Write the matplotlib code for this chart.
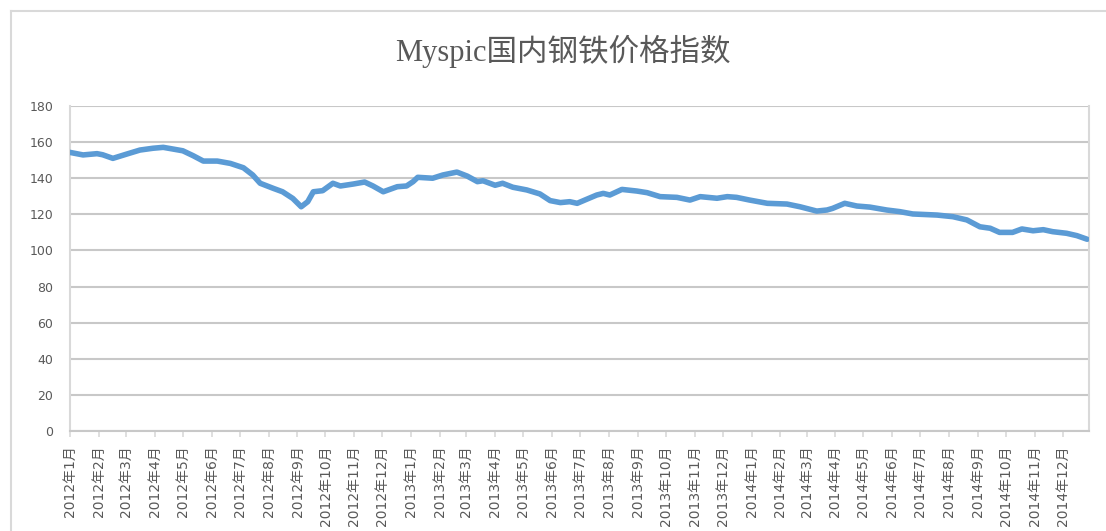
import matplotlib
matplotlib.use("Agg")
import matplotlib.pyplot as plt
from matplotlib.lines import Line2D
import pandas as pd

title = "Myspic国内钢铁价格指数"

dates = [
    "2012-01-01", "2012-01-15", "2012-01-30", "2012-02-05", "2012-02-16", "2012-03-02",
    "2012-03-16", "2012-03-30", "2012-04-10", "2012-04-20", "2012-05-01", "2012-05-12",
    "2012-05-23", "2012-06-07", "2012-06-21", "2012-07-05", "2012-07-15", "2012-07-23",
    "2012-08-06", "2012-08-16", "2012-08-27", "2012-09-05", "2012-09-12", "2012-09-18",
    "2012-09-28", "2012-10-09", "2012-10-17", "2012-10-31", "2012-11-12", "2012-11-21",
    "2012-12-02", "2012-12-17", "2012-12-27", "2013-01-03", "2013-01-08", "2013-01-24",
    "2013-02-04", "2013-02-19", "2013-03-02", "2013-03-13", "2013-03-19", "2013-04-01",
    "2013-04-09", "2013-04-20", "2013-05-05", "2013-05-19", "2013-05-30", "2013-06-10",
    "2013-06-20", "2013-06-28", "2013-07-08", "2013-07-19", "2013-07-26", "2013-08-02",
    "2013-08-15", "2013-08-31", "2013-09-11", "2013-09-25", "2013-10-13", "2013-10-27",
    "2013-11-07", "2013-11-25", "2013-12-06", "2013-12-16", "2013-12-30", "2014-01-18",
    "2014-02-08", "2014-02-22", "2014-03-12", "2014-03-23", "2014-03-29", "2014-04-11",
    "2014-04-24", "2014-05-08", "2014-05-26", "2014-06-09", "2014-06-23", "2014-07-19",
    "2014-08-05", "2014-08-20", "2014-09-03", "2014-09-14", "2014-09-24", "2014-10-08",
    "2014-10-18", "2014-10-30", "2014-11-10", "2014-11-20", "2014-12-05", "2014-12-16",
    "2014-12-27",
]

values = [
    154.3, 152.9, 153.6, 153.0, 151.0, 153.4,
    155.6, 156.6, 157.1, 156.2, 155.2, 152.5,
    149.5, 149.5, 148.2, 145.8, 141.8, 137.2,
    134.4, 132.5, 128.8, 124.2, 127.0, 132.5,
    133.1, 137.2, 135.7, 136.8, 137.9, 135.7,
    132.5, 135.3, 135.7, 138.1, 140.5, 140.0,
    141.8, 143.4, 141.2, 138.1, 138.6, 136.1,
    137.2, 135.0, 133.5, 131.3, 127.6, 126.5,
    127.0, 126.1, 128.3, 130.7, 131.6, 130.7,
    133.8, 132.9, 132.0, 129.8, 129.4, 127.9,
    129.8, 128.9, 129.8, 129.4, 127.9, 126.1,
    125.7, 124.2, 121.8, 122.4, 123.3, 126.1,
    124.6, 124.0, 122.4, 121.5, 120.2, 119.6,
    118.7, 116.9, 113.1, 112.3, 110.0, 110.0,
    111.9, 110.9, 111.5, 110.4, 109.5, 108.2,
    106.2,
]

tick_dates = pd.date_range("2012-01-01", "2014-12-01", freq="MS")
tick_labels = [f"{d.year}年{d.month}月" for d in tick_dates]
y_ticks = [0, 20, 40, 60, 80, 100, 120, 140, 160, 180]

W, H = 1106, 531
fig = plt.figure(figsize=(W / 100, H / 100), dpi=100)
fig.patch.set_facecolor("white")

# outer chart frame (left and top edges visible)
border_c = "#d9d9d9"
fig.add_artist(Line2D([11 / W, 11 / W], [0, 1 - 11 / H], transform=fig.transFigure,
                      color=border_c, lw=1.5))
fig.add_artist(Line2D([11 / W, 1], [1 - 11 / H, 1 - 11 / H], transform=fig.transFigure,
                      color=border_c, lw=1.5))

left, right, top, bottom = 70, 1089, 106, 431
ax = fig.add_axes([left / W, (H - bottom) / H, (right - left) / W, (bottom - top) / H])

x = pd.to_datetime(dates)
ax.plot(x, values, color="#5B9BD5", lw=4.0, solid_joinstyle="round", solid_capstyle="round",
        zorder=3)

ax.set_ylim(0, 180)
ax.set_yticks(y_ticks)
ax.set_xlim(pd.Timestamp("2012-01-01"), pd.Timestamp("2014-12-29"))
ax.set_xticks(tick_dates)
ax.set_xticklabels(tick_labels, rotation=90, fontsize=10,
                   family=["DejaVu Sans", "Noto Sans CJK SC"], color="#595959")

ax.grid(axis="y", color="#c8c8c8", lw=1.5, zorder=0)
ax.grid(axis="x", visible=False)
ax.set_axisbelow(True)

ax.spines["top"].set_visible(False)
for s in ["left", "right"]:
    ax.spines[s].set_color(border_c)
    ax.spines[s].set_linewidth(1.5)
ax.spines["bottom"].set_color("#c8c8c8")
ax.spines["bottom"].set_linewidth(1.5)

ax.tick_params(axis="y", length=0, pad=12, labelsize=9, labelcolor="#595959")
ax.tick_params(axis="x", length=4, width=1.2, color=border_c, pad=6.5)

fig.text(563 / W, 1 - 51 / H, title, ha="center", va="center", fontsize=22,
         family=["Liberation Serif", "Noto Sans CJK SC"], color="#595959")

fig.savefig("out.png", dpi=100, facecolor="white")
